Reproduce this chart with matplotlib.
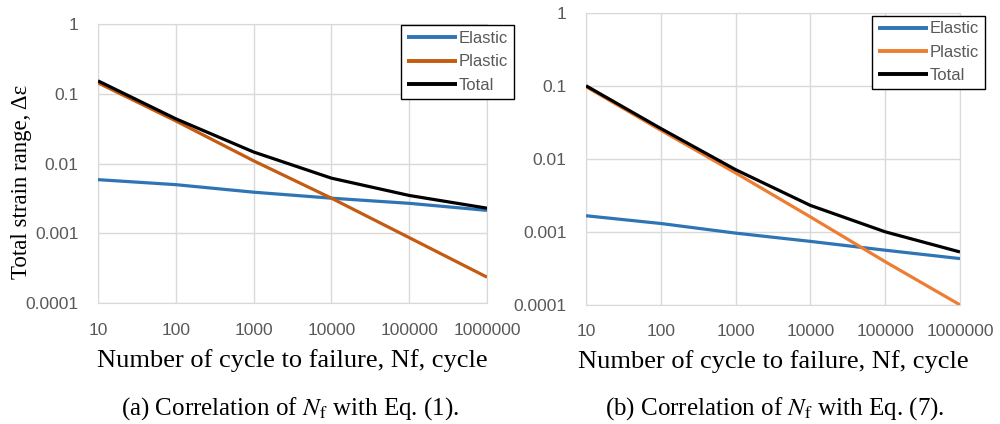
import numpy as np
import matplotlib
matplotlib.use("Agg")
import matplotlib.pyplot as plt
from matplotlib.ticker import FixedLocator, FixedFormatter, NullLocator

plt.rcParams['mathtext.fontset'] = 'stix'

# cycles to failure (x axis)
cycles = [10, 100, 1000, 10000, 100000, 1000000]

# (a) Eq. (1)
elastic_a = [0.0059, 0.0050, 0.0039, 0.0032, 0.0027, 0.00214]
plastic_a = [0.144, 0.041, 0.011, 0.0032, 0.00087, 0.000236]
total_a = [0.154, 0.044, 0.0147, 0.0062, 0.0035, 0.0023]

# (b) Eq. (7)
elastic_b = [0.00166, 0.0013, 0.00096, 0.00074, 0.00056, 0.00043]
plastic_b = [0.097, 0.0246, 0.0064, 0.0016, 0.00039, 0.0001]
total_b = [0.1, 0.026, 0.0071, 0.0023, 0.001, 0.00053]

y_ticks = [1, 0.1, 0.01, 0.001, 0.0001]
y_labels = ["1", "0.1", "0.01", "0.001", "0.0001"]
x_labels = ["10", "100", "1000", "10000", "100000", "1000000"]
series_names = ["Elastic", "Plastic", "Total"]

GRID = "#d9d9d9"
TICK = "#595959"
serif = "Liberation Serif"
sans = "Liberation Sans"

fig = plt.figure(figsize=(10, 4.24), dpi=100)
ax1 = fig.add_axes([0.098, 0.285, 0.389, 0.658])
ax2 = fig.add_axes([0.586, 0.281, 0.374, 0.689])


def setup(ax, data, colors, legend_anchor):
    handles = []
    for vals, c, name in zip(data, colors, series_names):
        h, = ax.plot(cycles, vals, color=c, lw=2.3, label=name,
                     solid_capstyle='butt', zorder=3)
        handles.append(h)
    ax.set_xscale('log')
    ax.set_yscale('log')
    ax.set_xlim(10, 1e6)
    ax.set_ylim(1e-4, 1)
    ax.xaxis.set_major_locator(FixedLocator(cycles))
    ax.xaxis.set_major_formatter(FixedFormatter(x_labels))
    ax.yaxis.set_major_locator(FixedLocator(y_ticks))
    ax.yaxis.set_major_formatter(FixedFormatter(y_labels))
    ax.xaxis.set_minor_locator(NullLocator())
    ax.yaxis.set_minor_locator(NullLocator())
    ax.grid(True, color=GRID, lw=1)
    for s in ax.spines.values():
        s.set_color(GRID)
    ax.tick_params(length=0, colors=TICK, labelsize=12.5)
    ax.tick_params(axis='x', pad=14)
    ax.tick_params(axis='y', pad=14)
    for lab in ax.get_xticklabels() + ax.get_yticklabels():
        lab.set_fontfamily(sans)
    ax.set_xlabel("Number of cycle to failure, Nf, cycle", fontsize=19,
                  fontfamily=serif, labelpad=8)
    leg = fig.legend(handles=handles, loc='upper right',
                     bbox_to_anchor=legend_anchor, fancybox=False,
                     edgecolor='black', framealpha=1, handlelength=3.0,
                     handletextpad=0.1, labelspacing=0.5, borderpad=0.35,
                     prop={'family': sans, 'size': 12})
    leg.get_frame().set_linewidth(1.0)
    for t in leg.get_texts():
        t.set_color(TICK)
    for line in leg.get_lines():
        line.set_linewidth(2.8)


setup(ax1, [elastic_a, plastic_a, total_a], ["#2e75b6", "#c55a11", "black"],
      (0.522, 0.960))
setup(ax2, [elastic_b, plastic_b, total_b], ["#2e75b6", "#ed7d31", "black"],
      (0.993, 0.983))

ax1.set_ylabel("Total strain range, Δε", fontsize=16.5, fontfamily=serif)
ax1.yaxis.set_label_coords(-0.17, 0.435)

fig.text(0.29, 0.022, r"(a) Correlation of $N$$_{\mathrm{f}}$ with Eq. (1).",
         ha='center', fontsize=18, fontfamily=serif)
fig.text(0.775, 0.022, r"(b) Correlation of $N$$_{\mathrm{f}}$ with Eq. (7).",
         ha='center', fontsize=18, fontfamily=serif)

fig.savefig("out.png", dpi=100)
